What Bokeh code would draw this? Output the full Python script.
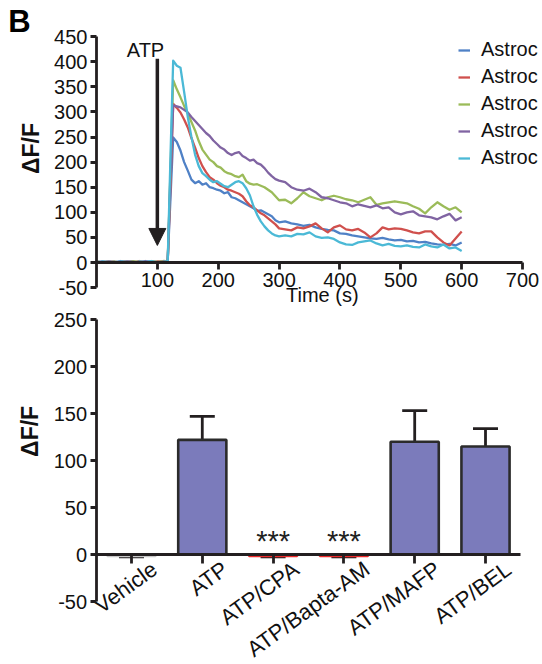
from math import radians, pi
from bokeh.plotting import figure
from bokeh.layouts import column
from bokeh.models import (ColumnDataSource, FixedTicker, Legend, LegendItem, Label,
                          Arrow, NormalHead, Whisker, TeeHead, Range1d)
from bokeh.core.properties import value
from bokeh.embed import file_html
from bokeh.resources import INLINE

FONT = "Liberation Sans"
INK = "#231f20"

# ---------------- data: traces (panel B, top) ----------------
time_s = [2, 10, 20, 30, 40, 50, 60, 70, 80, 90, 100, 110, 117, 122,
          126, 132, 138, 144, 150, 156, 162, 168, 174, 180, 186, 192, 198, 204, 210,
          216, 222, 228, 234, 240, 246, 252, 258, 264, 270, 276, 282, 288, 294, 300,
          310, 320, 330, 340, 350, 360, 370, 380, 390, 400, 410, 420, 430, 440, 450,
          460, 470, 480, 490, 500, 510, 520, 530, 540, 550, 560, 570, 580, 590, 600]

astro_1 = [1, 2, 0, 1, 3, 1, 2, 0, 1, 2, 1, 2, 3, 140,
           249, 240, 223, 200, 183, 165, 158, 162, 155, 158, 150, 148, 145, 143, 138,
           140, 130, 128, 124, 120, 116, 112, 108, 103, 104, 100, 96, 92, 84, 80,
           82, 78, 76, 73, 75, 70, 67, 65, 64, 58, 57, 54, 52, 50, 48,
           47, 49, 46, 44, 45, 42, 43, 40, 41, 38, 36, 35, 37, 34, 40]

astro_2 = [0, 1, 2, 0, 1, 2, 0, 3, 1, 0, 2, 1, 2, 170,
           316, 308, 299, 285, 269, 248, 229, 208, 192, 180, 170, 165, 158, 153, 150,
           145, 143, 140, 137, 132, 122, 114, 110, 104, 98, 94, 88, 82, 76, 68,
           66, 64, 70, 68, 72, 78, 68, 60, 70, 74, 66, 64, 67, 60, 50,
           58, 70, 66, 68, 67, 64, 60, 58, 62, 62, 50, 40, 34, 48, 62]

astro_3 = [2, 0, 1, 2, 0, 1, 3, 1, 0, 2, 1, 3, 2, 200,
           363, 345, 329, 312, 297, 280, 263, 242, 225, 215, 205, 200, 192, 189, 182,
           178, 176, 172, 170, 175, 162, 157, 155, 156, 153, 150, 145, 140, 132, 124,
           125, 118, 128, 140, 132, 128, 124, 130, 133, 130, 126, 124, 120, 125, 130,
           115, 118, 120, 122, 120, 118, 112, 107, 98, 110, 120, 112, 105, 110, 100]

astro_4 = [1, 0, 2, 1, 0, 2, 1, 0, 3, 1, 0, 2, 1, 190,
           313, 311, 309, 304, 299, 290, 282, 274, 266, 258, 252, 243, 236, 229, 225,
           218, 214, 218, 220, 212, 208, 203, 205, 198, 195, 188, 179, 172, 166, 163,
           160, 150, 145, 143, 147, 140, 130, 128, 124, 120, 118, 112, 116, 113, 110,
           114, 108, 110, 100, 96, 100, 102, 94, 92, 90, 86, 92, 97, 84, 90]

astro_5 = [0, 2, 1, 0, 2, 1, 0, 2, 1, 3, 0, 1, 2, 230,
           402, 392, 388, 340, 290, 250, 215, 192, 178, 172, 165, 160, 162, 157, 152,
           150, 155, 160, 162, 158, 148, 134, 112, 95, 82, 72, 64, 58, 54, 52,
           54, 52, 57, 56, 60, 52, 49, 50, 47, 40, 36, 35, 40, 42, 44,
           38, 34, 37, 33, 32, 34, 31, 30, 36, 32, 30, 36, 28, 30, 23]

series_names = ["Astroc", "Astroc", "Astroc", "Astroc", "Astroc"]
series_colors = ["#4f81c6", "#d0504d", "#9bbb59", "#8064a2", "#4bb9d6"]

top_y_ticks = [-50, 0, 50, 100, 150, 200, 250, 300, 350, 400, 450]
top_x_ticks = [100, 200, 300, 400, 500, 600, 700]
atp_time = 100

# ---------------- data: bars (panel B, bottom) ----------------
bar_cats = ["Vehicle", "ATP", "ATP/CPA", "ATP/Bapta-AM", "ATP/MAFP", "ATP/BEL"]
bar_means = [-1.5, 122, -1.5, -1.5, 120, 115]
bar_sems = [1, 25, 1, 1, 33, 19]
star_cats = ["ATP/CPA", "ATP/Bapta-AM"]
star_text = ["***", "***"]
bottom_y_ticks = [-50, 0, 50, 100, 150, 200, 250]

bar_fill = ["#d0d0d0", "#7b7bbb", "#ee2a2a", "#ee2a2a", "#7b7bbb", "#7b7bbb"]
bar_edge = ["#c8c8c8", "#2b2b2b", "#ee2a2a", "#ee2a2a", "#2b2b2b", "#2b2b2b"]


def style_axes(p):
    for ax in (p.xaxis + p.yaxis):
        ax.fixed_location = 0
        ax.axis_line_color = INK
        ax.axis_line_width = 2.8
        ax.major_tick_line_color = INK
        ax.major_tick_line_width = 2.8
        ax.major_tick_in = 0
        ax.minor_tick_line_color = None
        ax.major_label_text_font = FONT
        ax.major_label_text_font_size = "20px"
        ax.major_label_text_color = "#111111"
    p.yaxis.major_label_overrides = {-50: "-50"}
    p.xgrid.visible = False
    p.ygrid.visible = False
    p.outline_line_color = None
    p.min_border_left = p.min_border_right = p.min_border_top = p.min_border_bottom = 0


# ================= top figure =================
p1 = figure(width=542, height=307, output_backend="svg", toolbar_location=None,
            x_range=Range1d(-157.7, 732.8), y_range=Range1d(-89.6, 521.9))
style_axes(p1)
p1.xaxis.bounds = (0, 700)
p1.xaxis.ticker = FixedTicker(ticks=top_x_ticks)
p1.xaxis.major_tick_out = 7
p1.xaxis.major_label_standoff = 3
p1.yaxis.bounds = (-50, 450)
p1.yaxis.ticker = FixedTicker(ticks=top_y_ticks)
p1.yaxis.major_tick_out = 6
p1.yaxis.major_label_standoff = 3

renderers = []
for ys, col in zip([astro_1, astro_2, astro_3, astro_4, astro_5], series_colors):
    r = p1.line(time_s, ys, line_color=col, line_width=2.3, line_join="round")
    renderers.append(r)

legend = Legend(items=[LegendItem(label=n, renderers=[r]) for n, r in zip(series_names, renderers)],
                location=(458, 138), padding=0, margin=0, spacing=4,
                glyph_width=12, glyph_height=20, label_height=20, label_standoff=11,
                label_text_font=FONT, label_text_font_size="20px", label_text_color="#111111",
                border_line_color=None, background_fill_alpha=0)
p1.add_layout(legend, "center")

p1.add_layout(Arrow(end=NormalHead(size=17, fill_color=INK, line_color=INK, line_width=1),
                    x_start=atp_time, y_start=406, x_end=atp_time, y_end=34,
                    line_color=INK, line_width=3.5))
p1.add_layout(Label(x=80.5, y=423, text="ATP", text_font=FONT, text_font_size="20px",
                    text_align="center", text_baseline="middle", text_color="#111111"))
p1.add_layout(Label(x=371, y=-65, text="Time (s)", text_font=FONT, text_font_size="20px",
                    text_align="center", text_baseline="middle", text_color="#111111"))
p1.add_layout(Label(x=-108, y=227, text="ΔF/F", text_font=FONT, text_font_size="23px",
                    text_font_style="bold", angle=pi / 2, text_align="center",
                    text_baseline="middle", text_color="#111111"))
p1.add_layout(Label(x=-145, y=480, text="B", text_font=FONT, text_font_size="31px",
                    text_font_style="bold", text_align="left", text_baseline="middle",
                    text_color="#000000"))

# ================= bottom figure =================
bar_x = [i + 0.5 for i in range(len(bar_cats))]
star_x = [bar_x[bar_cats.index(c)] for c in star_cats]

p2 = figure(width=542, height=357, output_backend="svg", toolbar_location=None,
            x_range=Range1d(-1.350, 6.305), y_range=Range1d(-117.0, 262.8))
style_axes(p2)
p2.xaxis.bounds = (0, len(bar_cats))
p2.xaxis.ticker = FixedTicker(ticks=bar_x)
p2.xaxis.major_tick_out = 9
p2.xaxis.major_label_text_color = None
p2.yaxis.bounds = (-50, 250)
p2.yaxis.ticker = FixedTicker(ticks=bottom_y_ticks)
p2.yaxis.major_tick_out = 6
p2.yaxis.major_label_standoff = 3

tips = [m + s if m > 0 else m - s for m, s in zip(bar_means, bar_sems)]
src = ColumnDataSource(dict(x=bar_x, cat=bar_cats, mean=bar_means, tip=tips,
                            fill=bar_fill, edge=bar_edge))
p2.vbar(x="x", top="mean", bottom=0, width=0.68, source=src,
        fill_color="fill", line_color="edge", line_width=2.6)
p2.add_layout(Whisker(source=src, base="x", lower="mean", upper="tip", dimension="height",
                      line_color=INK, line_width=2.8, lower_head=None,
                      upper_head=TeeHead(size=25, line_color=INK, line_width=2.8)))

p2.text(x=star_x, y=[0, 0], text=star_text, text_font=value(FONT), text_font_size="29px",
        text_align="center", text_baseline="middle", text_color="#222222", y_offset=-14)

p2.text(x=bar_x, y=[0] * len(bar_cats), text=bar_cats, text_font=value(FONT),
        text_font_size="22px", angle=radians(36), text_align="right",
        text_baseline="middle", x_offset=23, y_offset=12, text_color="#111111")

p2.add_layout(Label(x=-0.927, y=131, text="ΔF/F", text_font=FONT, text_font_size="23px",
                    text_font_style="bold", angle=pi / 2, text_align="center",
                    text_baseline="middle", text_color="#111111"))

layout = column(p1, p2)
open("out.html", "w").write(file_html(layout, INLINE))
